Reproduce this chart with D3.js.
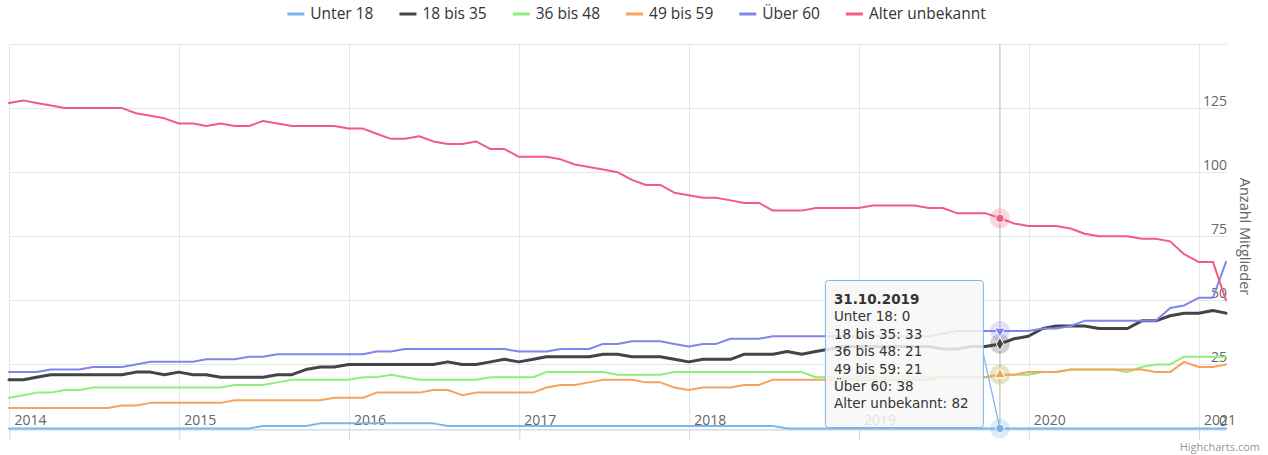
<!DOCTYPE html>
<html>
<head>
<meta charset="utf-8">
<script src="https://cdn.jsdelivr.net/npm/d3@7/dist/d3.min.js"></script>
<style>
body { margin: 0; background: #fff; }
svg { display: block; font-family: 'Open Sans', sans-serif; }
</style>
</head>
<body>
<svg></svg>
<script>
// month-end values, 31.12.2013 ... 28.02.2021 (one row per year)
const seriesNames = ['Unter 18', '18 bis 35', '36 bis 48', '49 bis 59', 'Über 60', 'Alter unbekannt'];
const colors = ['#7cb5ec', '#434348', '#90ed7d', '#f7a35c', '#8085e9', '#f15c80'];

const unter18 = [0,
	0,0,0,0,0,0,0,0,0,0,0,0,
	0,0,0,0,0,1,1,1,1,2,2,2,
	2,2,2,2,2,2,1,1,1,1,1,1,
	1,1,1,1,1,1,1,1,1,1,1,1,
	1,1,1,1,1,1,0,0,0,0,0,0,
	0,0,0,0,0,0,0,0,0,0,0,0,
	0,0,0,0,0,0,0,0,0,0,0,0,
	0,0];

const bis35 = [19,
	19,20,21,21,21,21,21,21,22,22,21,22,
	21,21,20,20,20,20,21,21,23,24,24,25,
	25,25,25,25,25,25,26,25,25,26,27,26,
	27,28,28,28,28,29,29,28,28,28,27,26,
	27,27,27,29,29,29,30,29,30,31,32,32,
	32,32,32,32,32,31,31,32,32,33,35,36,
	39,40,40,40,39,39,39,42,42,44,45,45,
	46,45];

const bis48 = [12,
	13,14,14,15,15,16,16,16,16,16,16,16,
	16,16,16,17,17,17,18,19,19,19,19,19,
	20,20,21,20,19,19,19,19,19,20,20,20,
	20,22,22,22,22,22,21,21,21,21,22,22,
	22,22,22,22,22,22,22,22,20,20,20,20,
	20,20,20,20,20,20,20,20,20,21,21,21,
	22,22,23,23,23,23,22,24,25,25,28,28,
	28,28];

const bis59 = [8,
	8,8,8,8,8,8,8,9,9,10,10,10,
	10,10,10,11,11,11,11,11,11,11,12,12,
	12,14,14,14,14,15,15,13,14,14,14,14,
	14,16,17,17,18,19,19,19,18,18,16,15,
	16,16,16,17,17,19,19,19,19,19,19,19,
	19,19,19,19,19,20,20,20,20,21,21,22,
	22,22,23,23,23,23,23,23,22,22,26,24,
	24,25];

const ueber60 = [22,
	22,22,23,23,23,24,24,24,25,26,26,26,
	26,27,27,27,28,28,29,29,29,29,29,29,
	29,30,30,31,31,31,31,31,31,31,31,30,
	30,30,31,31,31,33,33,34,34,34,33,32,
	33,33,35,35,35,36,36,36,36,36,36,36,
	36,36,36,36,36,37,38,38,38,38,38,38,
	39,39,40,42,42,42,42,42,42,47,48,51,
	51,65];

const unbekannt = [127,
	128,127,126,125,125,125,125,125,123,122,121,119,
	119,118,119,118,118,120,119,118,118,118,118,117,
	117,115,113,113,114,112,111,111,112,109,109,106,
	106,106,105,103,102,101,100,97,95,95,92,91,
	90,90,89,88,88,85,85,85,86,86,86,86,
	87,87,87,87,86,86,84,84,84,82,80,79,
	79,79,78,76,75,75,75,74,74,73,68,65,
	65,50];

const allSeries = [unter18, bis35, bis48, bis59, ueber60, unbekannt];
const yTicks = [0, 25, 50, 75, 100, 125];
const yGrid = [0, 25, 50, 75, 100, 125, 150];
const xYears = [2014, 2015, 2016, 2017, 2018, 2019, 2020, 2021];
const hoverIndex = 70;

const width = 1268;
const height = 455;
const plot = { left: 9, right: 1226, top: 44, bottom: 429 };

const dates = unter18.map((d, i) => new Date(2014, i, 0));

const svg = d3.select('svg')
	.attr('width', width)
	.attr('height', height);

const x = d3.scaleTime()
	.domain([dates[0], dates[dates.length - 1]])
	.range([plot.left, plot.right]);

const y = d3.scaleLinear()
	.domain([0, 150])
	.range([428.5, plot.top]);

const yearDates = xYears.map(yr => new Date(yr, 0, 1));

// grid
svg.append('g')
	.selectAll('line')
	.data(yGrid)
	.enter()
	.append('line')
	.attr('x1', plot.left)
	.attr('x2', plot.right + 1)
	.attr('y1', d => Math.round(y(d)) + 0.5)
	.attr('y2', d => Math.round(y(d)) + 0.5)
	.attr('stroke', '#e6e6e6');

svg.append('g')
	.selectAll('line')
	.data(yearDates)
	.enter()
	.append('line')
	.attr('x1', d => Math.round(x(d)) + 0.5)
	.attr('x2', d => Math.round(x(d)) + 0.5)
	.attr('y1', plot.top)
	.attr('y2', plot.bottom)
	.attr('stroke', '#e6e6e6');

// x axis (labels sit inside the plot)
const xAxis = d3.axisBottom(x)
	.tickValues(yearDates)
	.tickFormat(d3.timeFormat('%Y'))
	.tickSizeInner(10)
	.tickSizeOuter(0);

const xg = svg.append('g')
	.attr('transform', `translate(0, ${plot.bottom + 0.5})`)
	.call(xAxis);
xg.select('.domain').attr('stroke', '#ccd6eb');
xg.selectAll('.tick line').attr('stroke', '#ccd6eb');
xg.selectAll('.tick text')
	.attr('y', -5)
	.attr('dy', 0)
	.attr('x', 4.5)
	.style('text-anchor', 'start')
	.style('font-family', "'Open Sans', sans-serif")
	.style('font-size', '14px')
	.attr('fill', '#666');

// y axis on the right
const yAxis = d3.axisRight(y)
	.tickValues(yTicks)
	.tickSize(0);

const yg = svg.append('g')
	.attr('transform', `translate(${plot.right + 1}, 0)`)
	.call(yAxis);
yg.select('.domain').remove();
yg.selectAll('.tick text')
	.attr('x', 0)
	.attr('dy', -3)
	.style('text-anchor', 'end')
	.style('font-family', "'Open Sans', sans-serif")
	.style('font-size', '14px')
	.attr('fill', '#666');

svg.append('text')
	.attr('transform', `translate(1240, ${(plot.top + plot.bottom) / 2}) rotate(90)`)
	.attr('text-anchor', 'middle')
	.style('font-size', '14.5px')
	.attr('fill', '#666')
	.text('Anzahl Mitglieder');

// crosshair
const hx = x(dates[hoverIndex]);
svg.append('line')
	.attr('x1', hx)
	.attr('x2', hx)
	.attr('y1', plot.top)
	.attr('y2', plot.bottom)
	.attr('stroke', '#ccc')
	.attr('stroke-width', 1.5);

// series lines
const line = d3.line()
	.x((d, i) => x(dates[i]))
	.y(d => y(d));

svg.append('g')
	.selectAll('path')
	.data(allSeries)
	.enter()
	.append('path')
	.attr('d', line)
	.attr('fill', 'none')
	.attr('stroke', (d, k) => colors[k])
	.attr('stroke-width', (d, k) => k === 1 ? 3 : 2)
	.attr('stroke-linejoin', 'round')
	.attr('stroke-linecap', 'round');

// hover markers
const symbols = [d3.symbolCircle, d3.symbolDiamond, d3.symbolSquare, d3.symbolTriangle, d3.symbolTriangle, d3.symbolCircle];
const markers = svg.append('g');
allSeries.forEach((s, k) => {
	const py = y(s[hoverIndex]);
	markers.append('circle')
		.attr('cx', hx)
		.attr('cy', py)
		.attr('r', 10)
		.attr('fill', colors[k])
		.attr('opacity', 0.25);
});
allSeries.forEach((s, k) => {
	const py = y(s[hoverIndex]);
	markers.append('path')
		.attr('d', d3.symbol().type(symbols[k]).size(k === 0 || k === 5 ? 55 : 48)())
		.attr('transform', `translate(${hx}, ${py})` + (k === 4 ? ' rotate(180)' : ''))
		.attr('fill', colors[k])
		.attr('stroke', '#fff')
		.attr('stroke-width', 1);
});

// tooltip
const tip = svg.append('g').attr('transform', `translate(${hx - 175}, 280)`);
tip.append('line')
	.attr('x1', 158)
	.attr('y1', 72)
	.attr('x2', 175)
	.attr('y2', y(unter18[hoverIndex]) - 280)
	.attr('stroke', '#7cb5ec')
	.attr('stroke-width', 1.2);
tip.append('rect')
	.attr('x', 0.5)
	.attr('y', 0.5)
	.attr('width', 158)
	.attr('height', 147)
	.attr('rx', 3)
	.attr('fill', 'rgba(247,247,247,0.85)')
	.attr('stroke', '#7cb5ec');

const tipText = tip.append('text')
	.attr('x', 9)
	.attr('y', 24)
	.style('font-family', "'DejaVu Sans', sans-serif")
	.style('font-size', '13.5px')
	.attr('fill', '#333');
tipText.append('tspan')
	.style('font-weight', 'bold')
	.text(d3.timeFormat('%d.%m.%Y')(dates[hoverIndex]));
seriesNames.forEach((name, k) => {
	tipText.append('tspan')
		.attr('x', 9)
		.attr('dy', 17.4)
		.text(`${name}: ${allSeries[k][hoverIndex]}`);
});

// legend
const legend = svg.append('g');
let lx = 0;
seriesNames.forEach((name, k) => {
	const item = legend.append('g').attr('transform', `translate(${lx}, 0)`);
	item.append('line')
		.attr('x1', 1)
		.attr('x2', 18)
		.attr('y1', 14)
		.attr('y2', 14)
		.attr('stroke', colors[k])
		.attr('stroke-width', 3);
	const t = item.append('text')
		.attr('x', 24)
		.attr('y', 19)
		.style('font-size', '15.5px')
		.attr('fill', '#333')
		.text(name);
	lx += 24 + t.node().getComputedTextLength() + 25;
});
legend.attr('transform', `translate(${636 - (lx - 25) / 2}, 0)`);

svg.append('text')
	.attr('x', 1260)
	.attr('y', 451)
	.attr('text-anchor', 'end')
	.style('font-size', '11px')
	.attr('fill', '#999')
	.text('Highcharts.com');
</script>
</body>
</html>
